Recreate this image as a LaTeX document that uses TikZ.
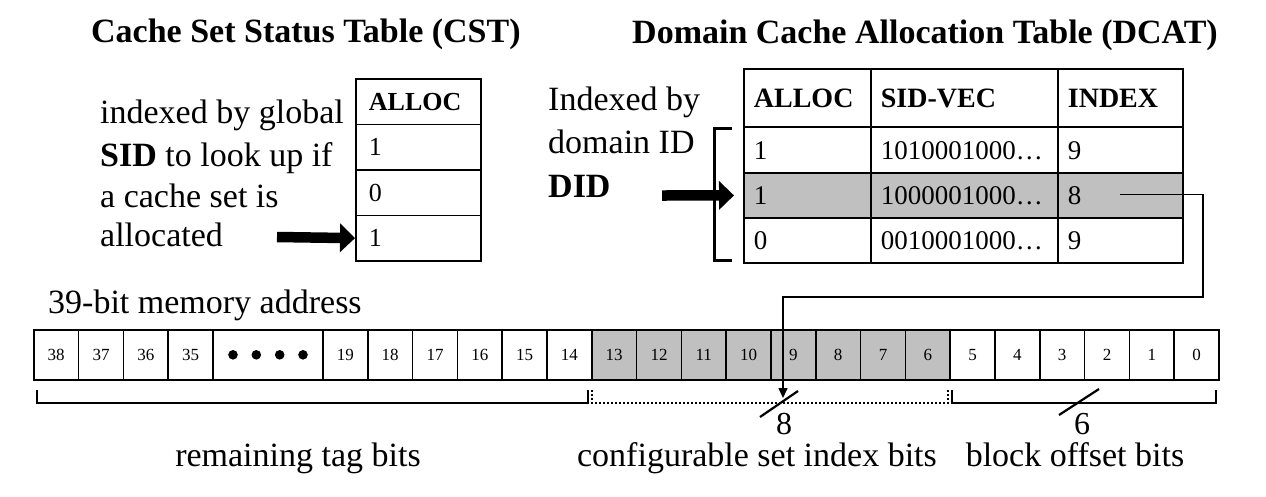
\documentclass[tikz,border=0pt]{standalone}
\usepackage{fontspec}
\setmainfont{Liberation Serif}
\usetikzlibrary{arrows.meta}
\definecolor{cellgray}{RGB}{192,192,192}
\newcommand{\myfs}[1]{\fontsize{#1}{#1}\selectfont}
\begin{document}
\begin{tikzpicture}[x=1pt,y=-1pt,
  txt/.style={inner sep=0pt, anchor=base west, font=\myfs{34}},
  ctxt/.style={inner sep=0pt, anchor=base, font=\myfs{34}},
  ttl/.style={inner sep=0pt, anchor=base west, font=\bfseries\myfs{34}},
  cstcell/.style={draw, line width=1.8pt, anchor=north west, minimum width=125pt,
    minimum height=45.5pt, text width=99pt, inner xsep=13pt, inner ysep=0pt,
    text height=17.5pt, text depth=0pt, align=left, font=\myfs{26}},
  csthead/.style={cstcell, font=\bfseries\myfs{26}},
  dcell/.style={draw, line width=1.8pt, anchor=north west, inner xsep=10pt,
    inner ysep=0pt, text height=18.5pt, text depth=0pt, align=left, font=\myfs{27}},
  dhead/.style={dcell, minimum height=58pt, font=\bfseries\myfs{28}},
  colA/.style={text width=107pt},
  colB/.style={text width=167pt},
  colC/.style={text width=105pt},
  bit/.style={draw, line width=1.6pt, anchor=north west, minimum width=44.8pt,
    minimum height=50pt, inner sep=0pt, font=\myfs{17}},
  graybit/.style={bit, fill=cellgray},
  fatarrow/.style={line width=10.5pt, -{Triangle[length=15pt,width=28pt]}},
  brk/.style={line width=2.6pt},
  dotbrk/.style={line width=2pt, dotted},
  conn/.style={line width=1.5pt, -{Triangle[length=10pt,width=9pt]}},
  slash/.style={line width=2.2pt},
  numlbl/.style={inner sep=0pt, anchor=base, font=\myfs{32}}
]
\useasboundingbox (0,0) rectangle (1266,496);

% titles
\node[ttl] (csttitle) at (91,42) {Cache Set Status Table (CST)};
\node[ttl] (dcattitle) at (632,43) {Domain Cache Allocation Table (DCAT)};

% CST description
\node[txt] (cstl1) at (100,123) {indexed by global};
\node[txt] (cstl2) at (100,166) {\textbf{SID} to look up if};
\node[txt] (cstl3) at (100,207) {a cache set is};
\node[txt] (cstl4) at (100,246) {allocated};

% CST table
\node[csthead] (csth) at (355,78) {ALLOC};
\node[cstcell] (cst1) at (355,123.5) {1};
\node[cstcell] (cst2) at (355,169) {0};
\node[cstcell] (cst3) at (355,214.5) {1};

\coordinate (csttail) at (277,237);
\draw[fatarrow] (csttail) -- (cst3.west);

% DCAT description
\node[txt] (dl1) at (548,110) {Indexed by};
\node[txt] (dl2) at (548,153) {domain ID};
\node[txt] (dl3) at (548,197) {\textbf{DID}};

% DCAT table
\node[dhead,colA] (dha) at (743,68) {ALLOC};
\node[dhead,colB] (dhb) at (870,68) {SID-VEC};
\node[dhead,colC] (dhc) at (1057,68) {INDEX};
\node[dcell,colA,minimum height=46pt] (d1a) at (743,126) {1};
\node[dcell,colB,minimum height=46pt] (d1b) at (870,126) {1010001000…};
\node[dcell,colC,minimum height=46pt] (d1c) at (1057,126) {9};
\node[dcell,colA,minimum height=45pt,fill=cellgray] (d2a) at (743,172) {1};
\node[dcell,colB,minimum height=45pt,fill=cellgray] (d2b) at (870,172) {1000001000…};
\node[dcell,colC,minimum height=45pt,fill=cellgray] (d2c) at (1057,172) {8};
\node[dcell,colA,minimum height=45pt] (d3a) at (743,217) {0};
\node[dcell,colB,minimum height=45pt] (d3b) at (870,217) {0010001000…};
\node[dcell,colC,minimum height=45pt] (d3c) at (1057,217) {9};

% bracket left of DCAT
\draw[line width=3pt] (732,128) -- (714,128) -- (714,260) -- (732,260);

\coordinate (didtail) at (662,195.5);
\draw[fatarrow, shorten >=9pt] (didtail) -- (d2a.west);

% address label
\node[txt] (addrlbl) at (48,313) {39-bit memory address};

% bits
\foreach \b in {38,37,36,35} {
  \node[bit] (b\b) at ({33+(38-\b)*44.8},329) {\b};
}
\node[bit, minimum width=110pt] (bdots) at (212.2,329) {};
\foreach \dx in {-35,-11.7,11.7,35} {
  \fill ([xshift=\dx pt]bdots.center) circle (4.8);
}
\foreach \b in {19,18,17,16,15,14} {
  \node[bit] (b\b) at ({322.2+(19-\b)*44.8},329) {\b};
}
\foreach \b in {13,12,11,10,9,8,7,6} {
  \node[graybit] (b\b) at ({322.2+(19-\b)*44.8},329) {\b};
}
\foreach \b in {5,4,3,2,1,0} {
  \node[bit] (b\b) at ({322.2+(19-\b)*44.8},329) {\b};
}

% connector from INDEX to set index bits
\coordinate (idxstart) at (1120,194.5);
\coordinate (idxend) at (783,398);
\draw[conn] (idxstart) -- (1203,194.5) -- (1203,297) -- (783,297) -- (idxend);

% brackets under the address
\draw[brk] (37,390) -- (37,403) -- (588,403) -- (588,390);
\draw[dotbrk] (592,390) -- (592,403) -- (948,403) -- (948,390);
\draw[brk] (952,390) -- (952,403) -- (1216,403) -- (1216,390);

\draw[slash] (760,417) -- (798,391);
\draw[slash] (1059,415) -- (1099,389);
\node[numlbl] (n8) at (784,434) {8};
\node[numlbl] (n6) at (1082,434) {6};

\node[ctxt] (tagl) at (298,466) {remaining tag bits};
\node[ctxt] (idxl) at (757,466) {configurable set index bits};
\node[ctxt] (offl) at (1075,466) {block offset bits};
\end{tikzpicture}
\end{document}
